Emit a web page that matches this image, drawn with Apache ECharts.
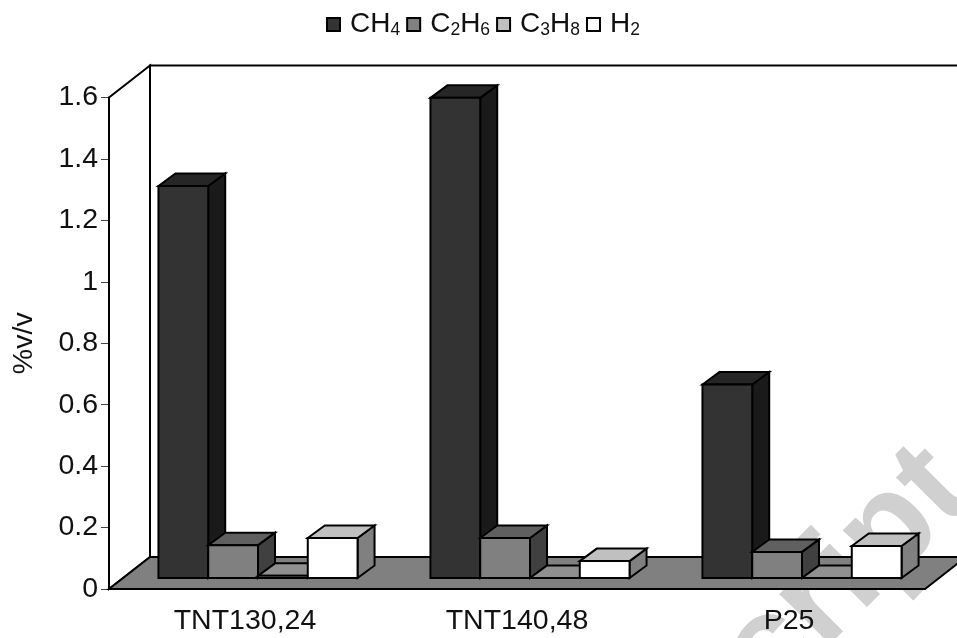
<!DOCTYPE html>
<html><head><meta charset="utf-8">
<style>html,body{margin:0;padding:0;background:#fff}#c{width:957px;height:638px}</style>
<script src="https://cdn.jsdelivr.net/npm/echarts@6/dist/echarts.min.js"></script>
</head><body><div id="c"></div>
<script>
const categories = ['TNT130,24', 'TNT140,48', 'P25'];
const yTicks = [0, 0.2, 0.4, 0.6, 0.8, 1, 1.2, 1.4, 1.6];
const CH4 = [1.276, 1.563, 0.63];
const C2H6 = [0.107, 0.13, 0.085];
const C3H8 = [0.007, 0, 0];
const H2 = [0.13, 0.055, 0.104];
const seriesNames = ['CH4', 'C2H6', 'C3H8', 'H2'];
const seriesValues = [CH4, C2H6, C3H8, H2];
const watermark = 'cript';
const front = ['#333333', '#808080', '#c0c0c0', '#ffffff'];
const top_ = ['#262626', '#606060', '#909090', '#c0c0c0'];
const side = ['#1a1a1a', '#404040', '#606060', '#808080'];

const chart = echarts.init(document.getElementById('c'), null, {renderer: 'canvas'});
const FONT = '"Liberation Sans", Arial, sans-serif';
const line = {stroke: '#000', lineWidth: 2, lineJoin: 'miter'};

function poly(points, fill) {
  return {type: 'polygon', shape: {points}, style: Object.assign({fill}, line)};
}

function renderWalls(params, api) {
  const o = api.coord([0, 0]);
  const size = api.size([1, 1]);
  const x0 = o[0] - size[0] / 2;
  const x1 = x0 + size[0] * categories.length;
  const y0 = o[1];
  const yT = api.coord([0, 1.6])[1];
  const dx = 41, dy = -32;
  return {type: 'group', children: [
    poly([[x0 + dx, y0 + dy], [x1 + dx, y0 + dy], [x1 + dx, yT + dy], [x0 + dx, yT + dy]], 'none'),
    poly([[x0, y0], [x0 + dx, y0 + dy], [x0 + dx, yT + dy], [x0, yT]], 'none'),
    poly([[x0, y0], [x1, y0], [x1 + dx, y0 + dy], [x0 + dx, y0 + dy]], '#808080')
  ]};
}

function renderBar(sIdx) {
  return function (params, api) {
    const cat = api.value(0), v = api.value(1);
    const c = api.coord([cat, v]);
    const base = api.coord([cat, 0]);
    const band = api.size([1, 0])[0];
    const w = band * 0.183;
    const shiftX = 13, shiftY = -11, dx = 17, dy = -12.5;
    const x = c[0] + shiftX - 2 * w + sIdx * w;
    const yB = base[1] + shiftY, yT = c[1] + shiftY;
    return {type: 'group', children: [
      poly([[x + w, yB], [x + w + dx, yB + dy], [x + w + dx, yT + dy], [x + w, yT]], side[sIdx]),
      poly([[x, yT], [x + dx, yT + dy], [x + w + dx, yT + dy], [x + w, yT]], top_[sIdx]),
      poly([[x, yB], [x + w, yB], [x + w, yT], [x, yT]], front[sIdx])
    ]};
  };
}

const rich = {
  n: {fontSize: 28, fontFamily: FONT, color: '#111', lineHeight: 32},
  s: {fontSize: 17.5, fontFamily: FONT, color: '#111', lineHeight: 32, padding: [11, 0, 0, 0]}
};
function legendText(name) {
  return name.replace(/(\d)/g, '}{s|$1}{n|').replace(/^/, '{n|') + '}';
}

chart.setOption({
  animation: false,
  backgroundColor: '#fff',
  graphic: [{
    type: 'text', x: 696, y: 630, rotation: Math.PI / 4, silent: true, z: 0,
    style: {text: watermark, x: 0, y: 0, textBaseline: 'alphabetic', fill: '#d0d0d0',
            font: 'bold 135px "Liberation Sans", Arial, sans-serif'}
  }],
  legend: {
    top: 5, left: 321, itemWidth: 13, itemHeight: 13, itemGap: 6,
    data: seriesNames.map(n => ({name: n, icon: 'rect'})),
    formatter: legendText,
    textStyle: {rich, fontSize: 28, fontFamily: FONT, padding: [0, 0, 0, 5]},
    selectedMode: false
  },
  grid: {left: 109, right: 32, top: 97.5, bottom: 49, outerBoundsMode: 'none'},
  xAxis: {
    type: 'category', data: categories,
    axisLine: {lineStyle: {color: '#222', width: 2}},
    axisTick: {length: 8, lineStyle: {color: '#444', width: 1}},
    axisLabel: {fontSize: 28.5, fontFamily: FONT, color: '#111', margin: 18},
    splitLine: {show: false}
  },
  yAxis: {
    type: 'value', min: 0, max: 1.6, interval: 0.2,
    name: '%v/v', nameLocation: 'middle', nameGap: 85, nameRotate: 90,
    nameTextStyle: {fontSize: 28.5, fontFamily: FONT, color: '#111', verticalAlign: 'middle'},
    axisLine: {show: true, lineStyle: {color: '#222', width: 2}},
    axisTick: {show: true, length: 8, lineStyle: {color: '#444', width: 1}},
    axisLabel: {fontSize: 28.5, fontFamily: FONT, color: '#111', margin: 11, padding: [4, 0, 0, 0],
      formatter: v => yTicks.find(t => Math.abs(t - v) < 1e-6).toString()},
    splitLine: {show: false}
  },
  series: [
    {type: 'custom', name: 'walls', silent: true, clip: false, z: 1,
     data: [[0]], encode: {x: 0}, renderItem: renderWalls}
  ].concat(seriesValues.map((vals, i) => ({
    type: 'custom', name: seriesNames[i], silent: true, clip: false, z: 2 + i,
    itemStyle: {color: front[i], borderColor: '#000', borderWidth: 1.4},
    encode: {x: 0, y: 1},
    data: vals.map((v, k) => [k, v]),
    renderItem: renderBar(i)
  })))
});
</script></body></html>
